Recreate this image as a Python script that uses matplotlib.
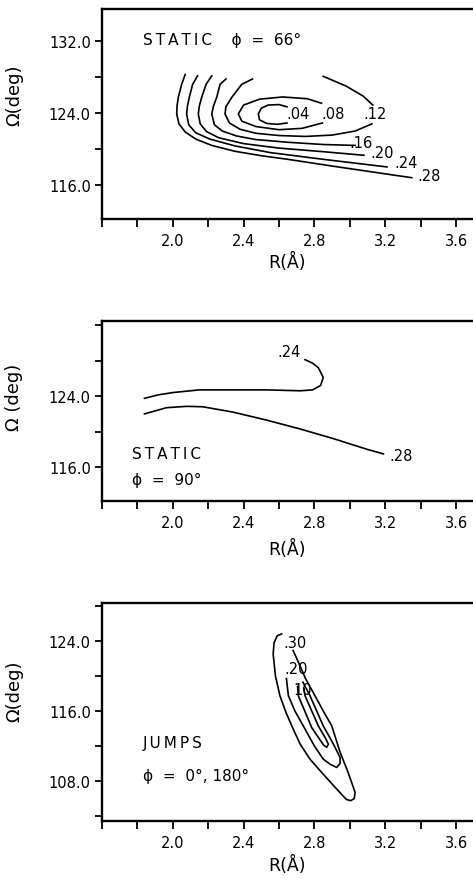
import matplotlib
matplotlib.use("Agg")
import matplotlib.pyplot as plt
from matplotlib.ticker import MultipleLocator, FixedLocator

plt.rcParams['font.family'] = ['DejaVu Sans']

# ---------------- data (R in Angstrom, Omega in deg) ----------------
# Panel 1: STATIC phi = 66
p1_c04_R = [2.645, 2.60, 2.54, 2.50, 2.483, 2.49, 2.53, 2.59, 2.645]
p1_c04_W = [124.7, 124.95, 124.9, 124.55, 123.9, 123.25, 122.85, 122.75, 122.9]
p1_c08_R = [2.84, 2.76, 2.62, 2.49, 2.40, 2.37, 2.39, 2.47, 2.60, 2.73, 2.845]
p1_c08_W = [125.1, 125.6, 125.8, 125.55, 124.9, 123.9, 123.1, 122.5, 122.15, 122.3, 122.9]
p1_c12a_R = [2.45, 2.389, 2.333, 2.30, 2.295, 2.32, 2.38, 2.47, 2.60, 2.75, 2.90, 3.03, 3.125]
p1_c12a_W = [127.8, 127.2, 125.75, 124.7, 123.9, 122.9, 122.2, 121.75, 121.5, 121.4, 121.55, 122.0, 122.8]
p1_c12b_R = [2.85, 2.98, 3.075, 3.13]
p1_c12b_W = [128.1, 127.0, 125.9, 124.9]
p1_c16_R = [2.30, 2.267, 2.248, 2.23, 2.22, 2.235, 2.28, 2.36, 2.47, 2.65, 2.85, 3.03]
p1_c16_W = [127.8, 127.2, 125.75, 124.8, 123.9, 122.7, 122.0, 121.45, 121.05, 120.75, 120.5, 120.4]
p1_c20_R = [2.22, 2.188, 2.163, 2.15, 2.144, 2.155, 2.19, 2.26, 2.40, 2.60, 2.85, 3.08]
p1_c20_W = [128.15, 127.2, 125.75, 124.8, 123.9, 122.8, 121.95, 121.25, 120.6, 120.1, 119.7, 119.3]
p1_c24_R = [2.14, 2.112, 2.093, 2.083, 2.078, 2.09, 2.13, 2.21, 2.35, 2.55, 2.85, 3.21]
p1_c24_W = [128.15, 127.2, 125.75, 124.8, 123.9, 122.7, 121.8, 121.1, 120.35, 119.6, 118.85, 118.0]
p1_c28_R = [2.07, 2.05, 2.031, 2.024, 2.022, 2.035, 2.07, 2.13, 2.22, 2.35, 2.50, 2.65, 2.90, 3.35]
p1_c28_W = [128.3, 127.2, 125.75, 124.8, 123.9, 122.8, 121.9, 121.1, 120.4, 119.75, 119.25, 118.85, 118.1, 116.8]
p1_labels = ['.04', '.08', '.12', '.16', '.20', '.24', '.28']
p1_label_R = [2.71, 2.905, 3.14, 3.065, 3.18, 3.32, 3.45]
p1_label_W = [123.9, 123.9, 123.9, 120.75, 119.6, 118.5, 117.0]

# Panel 2: STATIC phi = 90
p2_c24_R = [1.84, 1.92, 2.00, 2.15, 2.34, 2.53, 2.72, 2.79, 2.835, 2.85, 2.822, 2.79, 2.747]
p2_c24_W = [123.75, 124.15, 124.4, 124.7, 124.7, 124.7, 124.6, 124.7, 125.2, 126.1, 127.2, 127.7, 128.1]
p2_c28_R = [1.84, 1.965, 2.08, 2.17, 2.34, 2.53, 2.72, 2.91, 3.10, 3.19]
p2_c28_W = [122.0, 122.7, 122.85, 122.8, 122.2, 121.3, 120.3, 119.2, 118.0, 117.5]
p2_labels = ['.24', '.28']
p2_label_R = [2.655, 3.29]
p2_label_W = [129.0, 117.35]

# Panel 3: JUMPS phi = 0, 180
p3_c30_R = [2.68, 2.709, 2.75, 2.803, 2.85, 2.898, 2.945, 2.99, 3.03, 3.025, 3.005,
             2.98, 2.907, 2.84, 2.775, 2.72, 2.681, 2.64, 2.605, 2.58, 2.567, 2.572, 2.59, 2.615]
p3_c30_W = [122.9, 121.6, 119.7, 117.75, 116.0, 114.3, 111.3, 109.0, 106.7, 106.0, 105.75,
             105.9, 107.5, 109.0, 110.5, 112.2, 113.9, 115.8, 117.75, 120.0, 122.5, 123.8, 124.6, 124.8]
p3_c20_R = [2.735, 2.775, 2.85, 2.90, 2.945, 2.945, 2.926, 2.89, 2.85, 2.80, 2.737, 2.69, 2.653, 2.642]
p3_c20_W = [119.3, 117.75, 114.3, 112.5, 110.7, 110.0, 109.55, 109.9, 110.5, 112.0, 114.3, 116.0, 117.75, 119.7]
p3_c10_R = [2.74, 2.747, 2.822, 2.865, 2.879, 2.869, 2.852, 2.785, 2.709, 2.705]
p3_c10_W = [118.6, 117.75, 114.3, 112.8, 112.2, 111.85, 112.1, 114.1, 117.75, 118.8]
p3_labels = ['.30', '.20', '10']
p3_label_R = [2.69, 2.696, 2.733]
p3_label_W = [123.85, 120.8, 118.5]

x_ticks_major = [2.0, 2.4, 2.8, 3.2, 3.6]
x_tick_labels = ['2.0', '2.4', '2.8', '3.2', '3.6']
p1_yticks = [116.0, 124.0, 132.0]
p2_yticks = [116.0, 124.0]
p3_yticks = [108.0, 116.0, 124.0]

# ---------------- figure ----------------
W, H = 473, 879
fig = plt.figure(figsize=(W / 100, H / 100), dpi=100)

x0_px = 102
px_per_unit = 177.0
xmin, xmax = 1.6, 3.8
ax_w = (xmax - xmin) * px_per_unit
TS = '\u2009'


def spaced(s):
    return TS.join(s)


def make_ax(top_px, bot_px, ylim, yticks, ylabel, ylab_y, xlab_y):
    ax = fig.add_axes([x0_px / W, 1 - bot_px / H, ax_w / W, (bot_px - top_px) / H])
    ax.set_xlim(xmin, xmax)
    ax.set_ylim(*ylim)
    ax.xaxis.set_major_locator(FixedLocator(x_ticks_major))
    ax.set_xticklabels(x_tick_labels)
    ax.xaxis.set_minor_locator(MultipleLocator(0.2))
    ax.yaxis.set_major_locator(FixedLocator(yticks))
    ax.set_yticklabels(['%.1f' % v for v in yticks])
    ax.yaxis.set_minor_locator(MultipleLocator(4.0))
    ax.tick_params(which='both', direction='out', width=1.3, length=6,
                   labelsize=10.5, pad=4)
    ax.tick_params(axis='y', which='both', length=5, pad=3)
    for s in ax.spines.values():
        s.set_linewidth(1.7)
    ax.set_ylabel(ylabel, fontsize=13)
    ax.yaxis.set_label_coords((23 - x0_px) / ax_w, ylab_y)
    ax.set_xlabel('R(Å)', fontsize=12.5)
    ax.xaxis.set_label_coords((287 - x0_px) / ax_w, xlab_y)
    return ax


lw = 1.2
LFS = 10.5
ax1 = make_ax(10, 220, (112.2, 135.6), p1_yticks, 'Ω(deg)', 0.595, -0.157)
for R, Wv in [(p1_c04_R, p1_c04_W), (p1_c08_R, p1_c08_W), (p1_c12a_R, p1_c12a_W),
              (p1_c12b_R, p1_c12b_W), (p1_c16_R, p1_c16_W), (p1_c20_R, p1_c20_W),
              (p1_c24_R, p1_c24_W), (p1_c28_R, p1_c28_W)]:
    ax1.plot(R, Wv, color='black', lw=lw)
for t, r, w in zip(p1_labels, p1_label_R, p1_label_W):
    ax1.text(r, w, t, fontsize=LFS, ha='center', va='center')
ax1.text(1.83, 132.2, spaced('STATIC') + '    ϕ  =  66°', fontsize=11, ha='left', va='center')

ax2 = make_ax(322, 502, (112.2, 132.45), p2_yticks, 'Ω (deg)', 0.583, -0.211)
for R, Wv in [(p2_c24_R, p2_c24_W), (p2_c28_R, p2_c28_W)]:
    ax2.plot(R, Wv, color='black', lw=lw)
for t, r, w in zip(p2_labels, p2_label_R, p2_label_W):
    ax2.text(r, w, t, fontsize=LFS, ha='center', va='center')
ax2.text(1.77, 117.6, spaced('STATIC'), fontsize=11, ha='left', va='center')
ax2.text(1.77, 114.6, 'ϕ  =  90°', fontsize=11, ha='left', va='center')

ax3 = make_ax(604, 822, (103.43, 128.34), p3_yticks, 'Ω(deg)', 0.60, -0.155)
for R, Wv in [(p3_c30_R, p3_c30_W), (p3_c20_R, p3_c20_W), (p3_c10_R, p3_c10_W)]:
    ax3.plot(R, Wv, color='black', lw=lw)
for t, r, w in zip(p3_labels, p3_label_R, p3_label_W):
    ax3.text(r, w, t, fontsize=LFS, ha='center', va='center')
ax3.text(1.83, 112.4, spaced('JUMPS'), fontsize=11, ha='left', va='center')
ax3.text(1.83, 108.6, 'ϕ  =  0°, 180°', fontsize=11, ha='left', va='center')

fig.savefig('out.png', dpi=100)
